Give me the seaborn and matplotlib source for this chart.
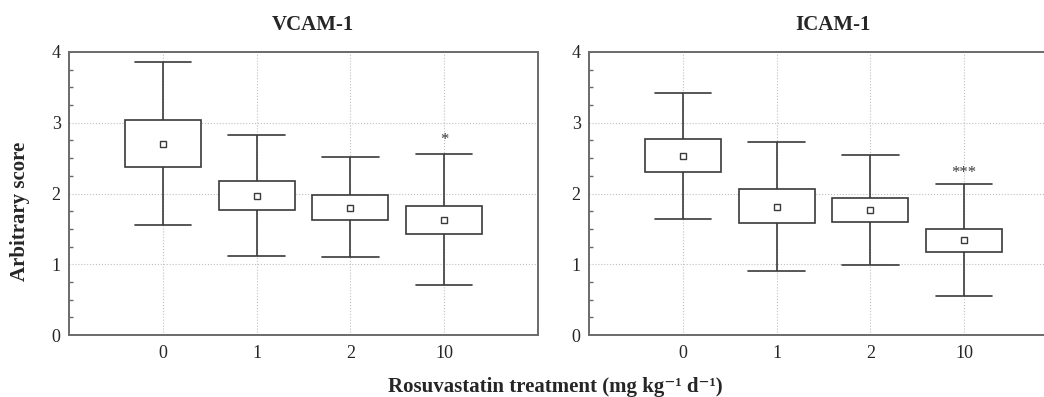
import numpy as np
import pandas as pd
import matplotlib
matplotlib.use("Agg")
import matplotlib.pyplot as plt
import seaborn as sns

# ---------------- data ----------------
doses = ["0", "1", "2", "10"]
panels = ["VCAM-1", "ICAM-1"]

vcam_whisk_lo = [1.55, 1.11, 1.10, 0.70]
vcam_box_lo   = [2.37, 1.76, 1.63, 1.43]
vcam_mean     = [2.70, 1.96, 1.80, 1.63]
vcam_box_hi   = [3.04, 2.18, 1.98, 1.82]
vcam_whisk_hi = [3.86, 2.82, 2.52, 2.56]
vcam_sig      = ["", "", "", "*"]
vcam_sig_y    = [None, None, None, 2.65]

icam_whisk_lo = [1.64, 0.91, 0.99, 0.55]
icam_box_lo   = [2.30, 1.58, 1.60, 1.17]
icam_mean     = [2.53, 1.81, 1.77, 1.34]
icam_box_hi   = [2.77, 2.06, 1.94, 1.50]
icam_whisk_hi = [3.42, 2.73, 2.55, 2.13]
icam_sig      = ["", "", "", "***"]
icam_sig_y    = [None, None, None, 2.17]

y_ticks = [0, 1, 2, 3, 4]
x_title = "Rosuvastatin treatment (mg kg\u207b\u00b9 d\u207b\u00b9)"
y_title = "Arbitrary score"

# ---------------- style ----------------
sns.set_theme(style="white")
plt.rcParams["font.family"] = ["Liberation Serif", "DejaVu Serif"]

W, H = 1044, 397
fig = plt.figure(figsize=(W / 100, H / 100), dpi=100)

ax_w = 469 / W
ax_h = 283 / H
ax_b = (H - 335) / H
axes = [fig.add_axes([69 / W, ax_b, ax_w, ax_h]),
        fig.add_axes([589 / W, ax_b, ax_w, ax_h])]

line_c = "#3a3a3a"
spine_c = "#6a6a6a"

stats = [
    (vcam_whisk_lo, vcam_box_lo, vcam_mean, vcam_box_hi, vcam_whisk_hi, vcam_sig, vcam_sig_y),
    (icam_whisk_lo, icam_box_lo, icam_mean, icam_box_hi, icam_whisk_hi, icam_sig, icam_sig_y),
]

for ax, name, (wl, bl, mn, bh, wh, sig, sigy) in zip(axes, panels, stats):
    rows = []
    for i, d in enumerate(doses):
        for v in (wl[i], bl[i], mn[i], bh[i], wh[i]):
            rows.append({"dose": d, "value": v})
    df = pd.DataFrame(rows)
    mdf = pd.DataFrame({"dose": doses, "mean": mn})

    sns.boxplot(data=df, x="dose", y="value", order=doses, whis=(0, 100),
                width=0.81, color="white", linecolor=line_c, linewidth=1.2,
                medianprops={"visible": False}, showfliers=False,
                capwidths=0.6, ax=ax)
    sns.pointplot(data=mdf, x="dose", y="mean", order=doses, errorbar=None,
                  linestyle="none", marker="s", markersize=5,
                  markerfacecolor="white", markeredgecolor=line_c,
                  markeredgewidth=1.0, color=line_c, ax=ax)

    for i, (s, y) in enumerate(zip(sig, sigy)):
        if s:
            ax.text(i, y, s, ha="center", va="bottom", fontsize=12, color=line_c)

    ax.set_xlim(-1, 4)
    ax.set_ylim(0, 4)
    ax.set_yticks(y_ticks)
    ax.set_yticks(np.arange(0, 4.01, 0.25), minor=True)
    ax.grid(True, which="major", axis="both", linestyle=":", color="#c0c0c0", linewidth=0.8)
    ax.set_axisbelow(True)
    ax.tick_params(axis="y", which="minor", direction="in", length=3, color=spine_c, left=True)
    ax.tick_params(axis="y", which="major", direction="in", length=0, labelsize=13, pad=6)
    ax.tick_params(axis="x", which="major", length=0, labelsize=13, pad=7)
    for sp in ax.spines.values():
        sp.set_color(spine_c)
        sp.set_linewidth(1.4)
    ax.set_xlabel("")
    ax.set_ylabel("")
    ax.set_title(name, fontsize=15, fontweight="bold", pad=16, x=0.52)

axes[0].set_ylabel(y_title, fontsize=15, fontweight="bold")
axes[0].yaxis.set_label_coords(-0.083, (335 - 211) / 283)
fig.text(555 / W, 1 - 387 / H, x_title, ha="center", va="center",
         fontsize=15, fontweight="bold")

fig.savefig("out.png", dpi=100)
